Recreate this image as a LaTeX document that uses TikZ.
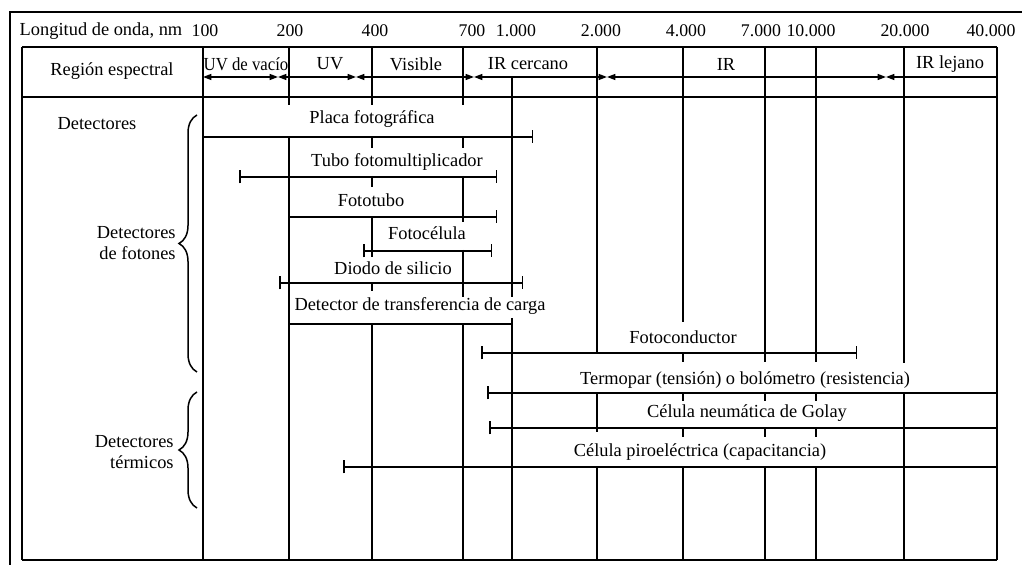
\documentclass[tikz,border=0pt]{standalone}
\usepackage{fontspec}
\setmainfont{Liberation Serif}
\usetikzlibrary{arrows.meta,decorations.pathreplacing}

\begin{document}
\begin{tikzpicture}[x=0.5pt,y=-0.5pt,
  rule/.style={line width=0.75pt},
  outer/.style={line width=0.95pt},
  lbl/.style={inner sep=0pt, font=\fontsize{9.2}{10.5}\selectfont},
  num/.style={inner sep=0pt, font=\fontsize{8.9}{10.5}\selectfont},
  band/.style={rule, {Triangle[length=4.2pt,width=3pt]}-{Triangle[length=4.2pt,width=3pt]}},
  bandL/.style={rule, {Triangle[length=4.2pt,width=3pt]}-},
  span/.style={rule, {Bar[width=6.5pt]}-{Bar[width=6.5pt]}},
  spanR/.style={rule, -{Bar[width=6.5pt]}},
  spanL/.style={rule, {Bar[width=6.5pt]}-},
  grp/.style={rule, decorate, decoration={brace, amplitude=9pt, aspect=0.5}},
]
\useasboundingbox (0,0) rectangle (1022,565);

% outer frame
\draw[outer] (10,565) -- (10,12) -- (1022,12);

% wavelength scale
\node[lbl] (lon) at (101,31) {Longitud de onda, nm};
\foreach \x/\t [count=\i] in {205/100, 290/200, 375/400, 472/700, 516/1.000,
    601/2.000, 686/4.000, 761/7.000, 811/10.000, 905/20.000, 991/40.000}
  \node[num] (w\i) at (\x,31) {\t};

% table rules
\draw[rule] (22,47) -- (997,47);
\draw[rule] (22,97) -- (997,97);
\draw[rule] (22,560) -- (997,560);

% vertical grid lines, broken where labels sit
\foreach \x/\a/\b in {22/47/560, 203/47/560,
    289/47/105, 289/137/560,
    372/47/105, 372/137/148, 372/176/187, 372/217/257, 372/283/291, 372/324/560,
    463/47/105, 463/137/148, 463/176/222, 463/250/297, 463/324/560,
    512/77/297, 512/318/560,
    597/47/353, 597/393/432, 597/467/560,
    683/47/322, 683/353/362, 683/393/401, 683/428/437, 683/467/560,
    765/47/362, 765/393/401, 765/428/437, 765/467/560,
    816/47/362, 816/393/401, 816/428/437, 816/467/560,
    904/47/363, 904/393/560,
    997/47/560}
  \draw[rule] (\x,\a) -- (\x,\b);

% spectral regions
\node[lbl] (reg) at (112,71) {Región espectral};
\node[lbl] (uvv) at (246,64) {\scalebox{0.91}[1]{UV de vacío}};
\node[lbl] (uv) at (330,64) {UV};
\node[lbl] (vis) at (416,64) {Visible};
\node[lbl] (irc) at (528,64) {IR cercano};
\node[lbl] (ir) at (726,64) {IR};
\node[lbl] (irl) at (950,64) {IR lejano};

\coordinate (b0) at (203,77);
\coordinate (b1) at (278,77);
\coordinate (b2) at (356,77);
\coordinate (b3) at (474,77);
\coordinate (b4) at (607,77);
\coordinate (b5) at (886,77);
\coordinate (b6) at (997,77);
\draw[band] (b0) -- (b1);
\draw[band] (b1) -- (b2);
\draw[band] (b2) -- (b3);
\draw[band] (b3) -- (b4);
\draw[band] (b4) -- (b5);
\draw[bandL] (b5) -- (b6);

% detector groups
\node[lbl] (det) at (97,124) {Detectores};
\node[lbl, anchor=east, align=right] (dfot) at (176,243) {Detectores\\de fotones};
\node[lbl, anchor=east, align=right] (dter) at (174,452) {Detectores\\térmicos};
\coordinate (gfB) at (197,372);
\coordinate (gfT) at (197,115);
\coordinate (gtB) at (197,508);
\coordinate (gtT) at (197,392);
\draw[grp] (gfB) -- (gfT);
\draw[grp] (gtB) -- (gtT);

% detector ranges
\coordinate (placaL) at (203,137);   \coordinate (placaR) at (533,137);
\coordinate (tuboL) at (239,177);    \coordinate (tuboR) at (497,177);
\coordinate (ftL) at (289,217);      \coordinate (ftR) at (497,217);
\coordinate (fcL) at (363,251);      \coordinate (fcR) at (492,251);
\coordinate (diL) at (279,283);      \coordinate (diR) at (523,283);
\coordinate (ccdL) at (289,324);     \coordinate (ccdR) at (512,324);
\coordinate (pcL) at (481,353);      \coordinate (pcR) at (857,353);
\coordinate (tbL) at (487,393);      \coordinate (tbR) at (997,393);
\coordinate (goL) at (489,428);      \coordinate (goR) at (997,428);
\coordinate (peL) at (343,467);      \coordinate (peR) at (997,467);

\draw[spanR] (placaL) -- (placaR);
\draw[span] (tuboL) -- (tuboR);
\draw[spanR] (ftL) -- (ftR);
\draw[span] (fcL) -- (fcR);
\draw[span] (diL) -- (diR);
\draw[rule] (ccdL) -- (ccdR);
\draw[span] (pcL) -- (pcR);
\draw[spanL] (tbL) -- (tbR);
\draw[spanL] (goL) -- (goR);
\draw[spanL] (peL) -- (peR);

\node[lbl] (placa) at (372,119) {Placa fotográfica};
\node[lbl] (tubo) at (397,162) {Tubo fotomultiplicador};
\node[lbl] (ft) at (371,200) {Fototubo};
\node[lbl] (fc) at (427,233) {Fotocélula};
\node[lbl] (di) at (393,268) {Diodo de silicio};
\node[lbl] (ccd) at (420,306) {Detector de transferencia de carga};
\node[lbl] (pc) at (683,337) {Fotoconductor};
\node[lbl] (tb) at (745,380) {Termopar (tensión) o bolómetro (resistencia)};
\node[lbl] (go) at (747,413) {Célula neumática de Golay};
\node[lbl] (pe) at (700,452) {Célula piroeléctrica (capacitancia)};
\end{tikzpicture}
\end{document}
